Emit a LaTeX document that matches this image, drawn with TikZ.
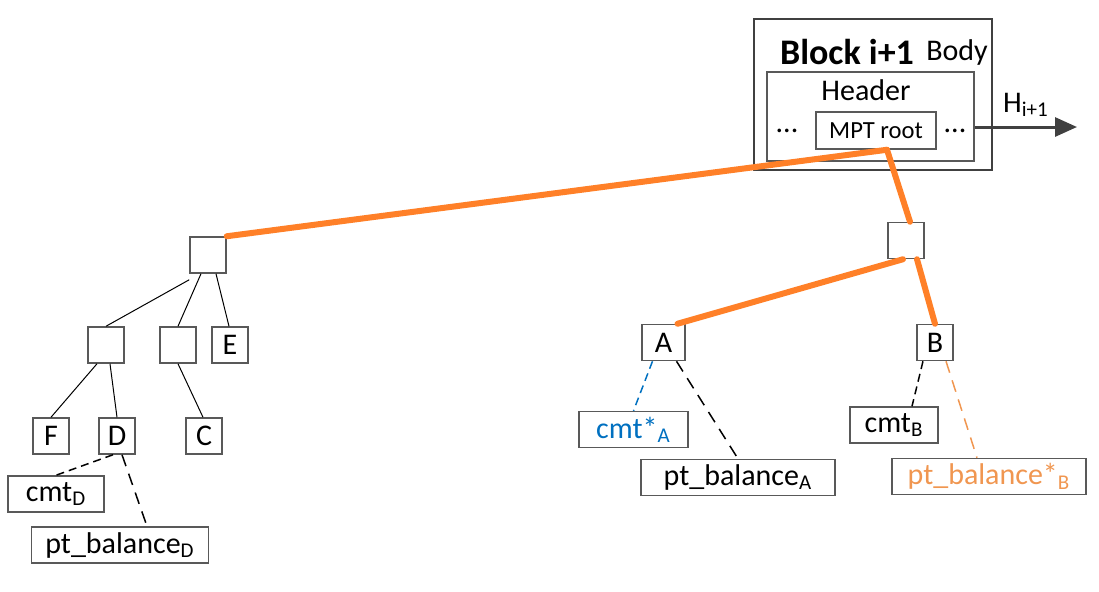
\documentclass[tikz,border=0pt]{standalone}
\usepackage{fontspec}
\setmainfont{Carlito}
\usepackage{tikz}
\usetikzlibrary{calc}
\usetikzlibrary{arrows.meta}
\tikzset{>=latex}
\definecolor{pathorange}{RGB}{255,128,40}
\definecolor{txtorange}{RGB}{240,150,80}
\definecolor{cmtblue}{RGB}{0,112,192}
\definecolor{boxgray}{RGB}{89,89,89}
\definecolor{arrowgray}{RGB}{64,64,64}
\tikzset{
    box/.style={draw=boxgray, line width=0.75pt, inner sep=0pt, font=\fontsize{15}{18}\selectfont},
    leaf/.style={box, minimum width=18pt, minimum height=18pt},
    tag/.style={box, minimum height=18pt},
    mpath/.style={draw=pathorange, line width=3pt, line cap=round},
    edge/.style={draw=black, line width=0.5pt},
    link/.style={draw=black, line width=0.75pt, dash pattern=on 4pt off 2.5pt},
}

\begin{document}
\begin{tikzpicture}[x=0.5pt, y=-0.5pt]
    \useasboundingbox (0,0) rectangle (1099,591);

    % Block i+1
    \node[draw=arrowgray, line width=1pt, minimum width=119pt, minimum height=75.5pt, inner sep=0pt] (block) at (873,94.5) {};
    \node[font=\fontsize{18}{20}\selectfont\bfseries] (blockname) at (847,52) {Block i+1};
    \node[font=\fontsize{15}{18}\selectfont] (body) at (957,52) {Body};
    \node[box, minimum width=103.5pt, minimum height=44.5pt] (header) at (870.5,116.5) {};
    \node[font=\fontsize{15}{18}\selectfont] (headername) at (866,90) {Header};
    \node[box, font=\fontsize{12.3}{14}\selectfont, minimum width=60pt, minimum height=18.5pt] (mpt) at (876,130.5) {MPT root};
    \node[font=\fontsize{15}{18}\selectfont] (dotsl) at (787,131) {...};
    \node[font=\fontsize{15}{18}\selectfont] (dotsr) at (955,131) {...};
    \coordinate (hout) at (1077,127);
    \draw[-{Triangle[length=11pt,width=9.5pt]}, arrowgray, line width=1.5pt] (header.east |- hout) -- (hout)
        node[pos=0.5, above=1pt, font=\fontsize{15}{18}\selectfont, black] {H\textsubscript{i+1}};

    % left subtree
    \node[leaf] (l0) at (208,255) {};
    \node[leaf] (l1) at (106,345) {};
    \node[leaf] (l2) at (178,345) {};
    \node[leaf] (E) at (230,345) {E};
    \node[leaf] (F) at (51,436) {F};
    \node[leaf] (D) at (117,436) {D};
    \node[leaf] (C) at (204,436) {C};
    \node[tag, minimum width=48pt] (cmtD) at (56,494) {cmt\textsubscript{D}};
    \node[tag, minimum width=88.5pt] (balD) at (120,545) {pt\_balance\textsubscript{D}};

    \draw[edge] ([yshift=-3pt]l0.south west) -- (l1.north);
    \draw[edge] ([xshift=-3.5pt]l0.south) -- (l2.north);
    \draw[edge] ([xshift=4pt]l0.south) -- ([xshift=-0.5pt]E.north);
    \draw[edge] ([xshift=-4.5pt]l1.south) -- (F.north);
    \draw[edge] ([xshift=2pt]l1.south) -- (D.north);
    \draw[edge] (l2.south) -- ([xshift=-0.5pt]C.north);
    \draw[link] ([xshift=-2pt]D.south) -- (cmtD.north);
    \draw[link, dash pattern=on 6pt off 4pt] ([xshift=2.5pt]D.south) -- ([xshift=13.5pt]balD.north);

    % right subtree
    \node[leaf] (r0) at (906,240.5) {};
    \node[leaf, minimum width=21.5pt] (A) at (663.5,342.5) {A};
    \node[leaf] (B) at (935,342.5) {B};
    \node[tag, minimum width=54.5pt, text=cmtblue] (cmtA) at (633.5,429.5) {cmt*\textsubscript{A}};
    \node[tag, minimum width=97pt] (balA) at (738,477.5) {pt\_balance\textsubscript{A}};
    \node[tag, minimum width=44pt] (cmtB) at (894,425) {cmt\textsubscript{B}};
    \node[tag, minimum width=97pt, text=txtorange] (balB) at (989,476.5) {pt\_balance*\textsubscript{B}};

    \draw[link, draw=cmtblue, dash pattern=on 4pt off 2.5pt] ([xshift=-5.5pt]A.south) -- (cmtA.north);
    \draw[link, dash pattern=on 6pt off 4pt] ([xshift=6.5pt]A.south) -- (balA.north);
    \draw[link] ([xshift=-6pt]B.south) -- ([xshift=9pt]cmtB.north);
    \draw[link, draw=txtorange, dash pattern=on 6pt off 4pt] ([xshift=5.5pt]B.south) -- ([xshift=-6pt]balB.north);

    % proof path
    \coordinate (mptout) at ([xshift=5.5pt]mpt.south);
    \draw[mpath] (mptout) -- (l0.north east);
    \draw[mpath] (mptout) -- ([xshift=2pt]r0.north);
    \draw[mpath] ([xshift=-1.5pt]r0.south) -- ([xshift=7pt]A.north);
    \draw[mpath] ([xshift=5.5pt]r0.south) -- (B.north);
\end{tikzpicture}
\end{document}
